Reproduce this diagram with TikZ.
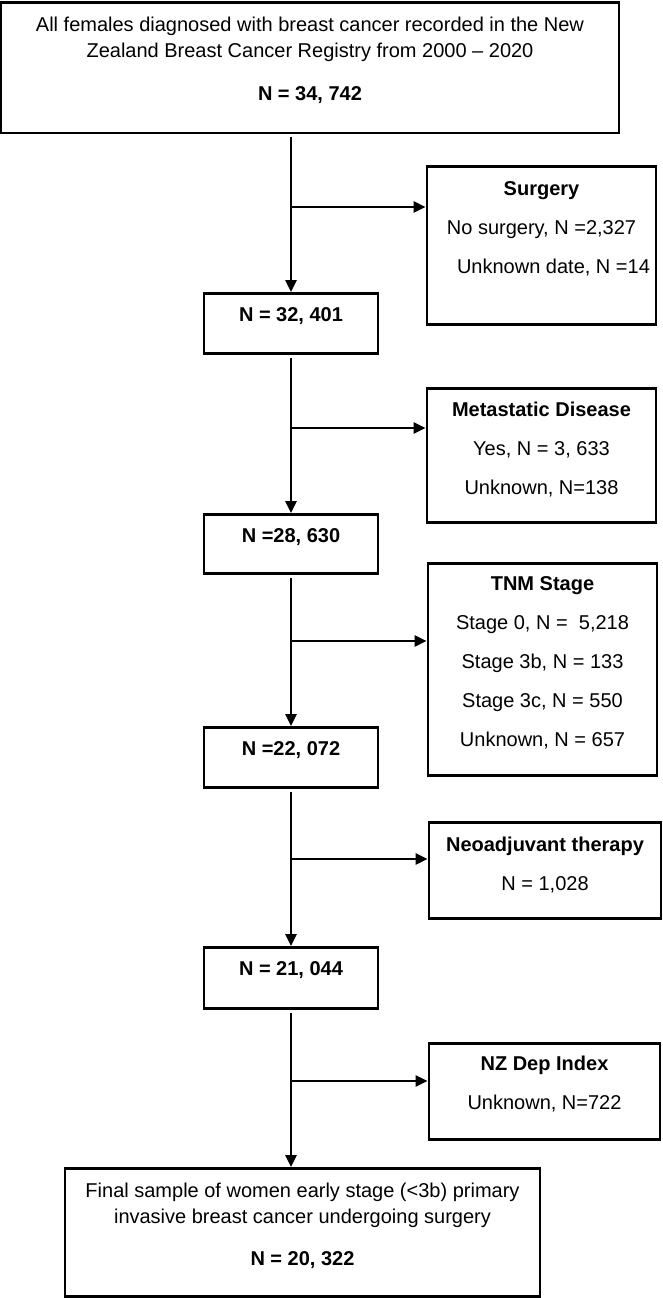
\documentclass[tikz,border=0pt]{standalone}
\usepackage{fontspec}
\setmainfont{Liberation Sans}
\usetikzlibrary{arrows.meta}

\tikzset{
    flowbox/.style={draw, line width=2.7pt, inner sep=0pt, anchor=north, align=center,
        text height=28.5pt, text depth=30pt, font=\fontsize{20pt}{26pt}\selectfont},
    countbox/.style={flowbox, minimum width=174pt, text depth=31.5pt},
    sidebox/.style={flowbox, minimum width=229pt},
    flowline/.style={line width=2.5pt, shorten <=3pt, -{Triangle[length=12pt,width=11pt]}}
}

\begin{document}
\begin{tikzpicture}[x=1pt, y=-1pt]
    \useasboundingbox (0,0) rectangle (662,1298);

    \node[flowbox, minimum width=618pt, text height=98pt, text depth=32pt] (all) at (310,1.5)
        {All females diagnosed with breast cancer recorded in the New\\
         Zealand Breast Cancer Registry from 2000 – 2020\\[17pt]
         \textbf{N = 34, 742}};

    \node[sidebox, text height=107pt, text depth=51pt] (surg) at (541.5,165)
        {\textbf{Surgery}\\[13pt]
         No surgery, N =2,327\\[13pt]
         \hspace*{24pt}Unknown date, N =14};
    \node[countbox] (n1) at (291,292) {\textbf{N = 32, 401}};

    \node[sidebox, text height=106pt, text depth=28pt] (meta) at (541.5,387)
        {\textbf{Metastatic Disease}\\[13pt]
         Yes, N = 3, 633\\[13pt]
         Unknown, N=138};
    \node[countbox, text depth=30.5pt] (n2) at (291,513) {\textbf{N =28, 630}};

    \node[sidebox, text height=183pt, text depth=29pt] (tnm) at (542.5,562)
        {\textbf{TNM Stage}\\[13pt]
         Stage 0, N = \ 5,218\\[13pt]
         Stage 3b, N = 133\\[13pt]
         Stage 3c, N = 550\\[13pt]
         Unknown, N = 657};
    \node[countbox] (n3) at (291,726) {\textbf{N =22, 072}};

    \node[sidebox, minimum width=232pt, text height=68pt, text depth=28pt] (neo) at (545,821)
        {\textbf{Neoadjuvant therapy}\\[13pt]
         N = 1,028};
    \node[countbox, text depth=32.5pt] (n4) at (291,946) {\textbf{N = 21, 044}};

    \node[sidebox, minimum width=231pt, text height=66pt] (dep) at (544.5,1042)
        {\textbf{NZ Dep Index}\\[13pt]
         Unknown, N=722};

    \node[flowbox, minimum width=475pt, text height=97pt, text depth=31pt] (final) at (302.5,1167)
        {Final sample of women early stage (<3b) primary\\
         invasive breast cancer undergoing surgery\\[16pt]
         \textbf{N = 20, 322}};

    \coordinate (cut1) at (291,207);
    \coordinate (cut2) at (291,428);
    \coordinate (cut3) at (291,641);
    \coordinate (cut4) at (291,859);
    \coordinate (cut5) at (291,1081);

    \draw[flowline] (all.south -| n1.north) -- (n1.north);
    \draw[flowline] (n1.south) -- (n2.north);
    \draw[flowline] (n2.south) -- (n3.north);
    \draw[flowline] (n3.south) -- (n4.north);
    \draw[flowline] (n4.south) -- (n4.south |- final.north);

    \draw[flowline, shorten <=0pt] (cut1) -- (cut1 -| surg.west);
    \draw[flowline, shorten <=0pt] (cut2) -- (cut2 -| meta.west);
    \draw[flowline, shorten <=0pt] (cut3) -- (cut3 -| tnm.west);
    \draw[flowline, shorten <=0pt] (cut4) -- (cut4 -| neo.west);
    \draw[flowline, shorten <=0pt] (cut5) -- (cut5 -| dep.west);
\end{tikzpicture}
\end{document}
